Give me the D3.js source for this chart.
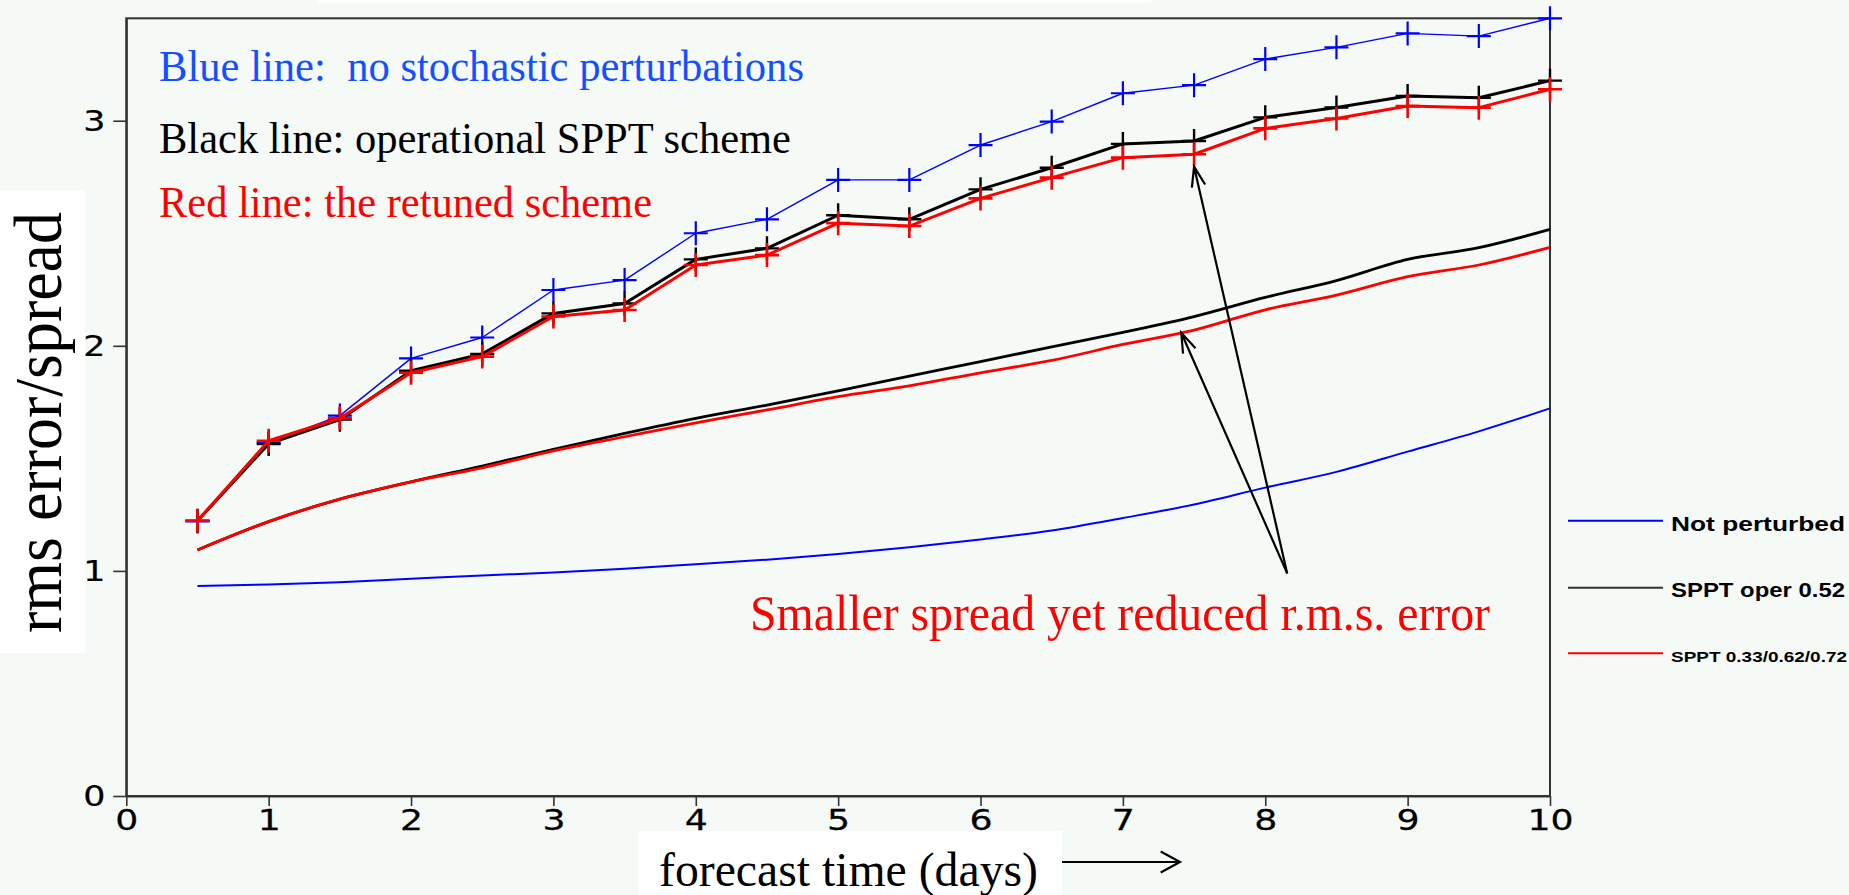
<!DOCTYPE html>
<html><head><meta charset="utf-8">
<script src="https://cdn.jsdelivr.net/npm/d3@7"></script>
<style>html,body{margin:0;padding:0;background:#f5faf7;} svg{display:block}</style>
</head><body><svg id="c" width="1849" height="895"></svg>
<script>
// ---------- data ----------
const days = [0.5,1,1.5,2,2.5,3,3.5,4,4.5,5,5.5,6,6.5,7,7.5,8,8.5,9,9.5,10];
// rms error (lines with + markers)
const rmsNotPerturbed = [1.22,1.57,1.69,1.944,2.037,2.248,2.292,2.50,2.562,2.737,2.737,2.892,2.996,3.122,3.158,3.274,3.326,3.388,3.376,3.455];
const rmsOper        = [1.223,1.564,1.672,1.889,1.964,2.144,2.188,2.384,2.433,2.58,2.562,2.695,2.791,2.897,2.910,3.015,3.059,3.11,3.102,3.178];
const rmsRetuned     = [1.223,1.578,1.678,1.880,1.952,2.13,2.159,2.359,2.403,2.545,2.532,2.655,2.747,2.836,2.851,2.966,3.010,3.065,3.058,3.140];
// ensemble spread (lines without markers)
const spreadNotPerturbed = [0.933,0.940,0.950,0.965,0.98,0.993,1.01,1.03,1.05,1.075,1.105,1.14,1.18,1.235,1.295,1.37,1.44,1.53,1.62,1.722];
const spreadOper         = [1.093,1.219,1.319,1.396,1.466,1.540,1.611,1.678,1.737,1.800,1.865,1.93,1.995,2.06,2.13,2.215,2.29,2.384,2.436,2.517];
const spreadRetuned      = [1.093,1.219,1.319,1.396,1.458,1.533,1.596,1.658,1.715,1.774,1.822,1.88,1.935,2.006,2.07,2.16,2.225,2.307,2.359,2.437];
const xTicks = [0,1,2,3,4,5,6,7,8,9,10];
const yTicks = [0,1,2,3];
const legendLabels = ["Not perturbed","SPPT oper 0.52","SPPT 0.33/0.62/0.72"];
const seriesColors = ["#0000ff","#000000","#ff0000"];
// annotation arrows in data units: [fromDay, fromVal, toDay, toVal]
const arrowFrom = [8.154, 0.989];
const arrowTips = [[7.5, 2.796],[7.41, 2.058]];

// ---------- layout ----------
const svg = d3.select("#c");
const W = 1849, H = 895;
const x = d3.scaleLinear().domain([0,10]).range([126.3,1550]);
const y = d3.scaleLinear().domain([0,3.455]).range([796,18.3]);

svg.append("rect").attr("width",W).attr("height",H).attr("fill","#f5faf7");
// white patches
svg.append("rect").attr("x",318).attr("y",0).attr("width",833).attr("height",2.5).attr("fill","#ffffff");
svg.append("rect").attr("x",0).attr("y",190).attr("width",85).attr("height",463).attr("fill","#ffffff");
svg.append("rect").attr("x",638).attr("y",831).attr("width",424).attr("height",64).attr("fill","#ffffff");

// frame
svg.append("rect").attr("x",x(0)).attr("y",y(3.455)).attr("width",x(10)-x(0)).attr("height",y(0)-y(3.455))
  .attr("fill","none").attr("stroke","#333").attr("stroke-width",2);

// axes
const xAxis = d3.axisBottom(x).tickValues(xTicks).tickSize(10).tickSizeOuter(0).tickPadding(3).tickFormat(d3.format("d"));
const gx = svg.append("g").attr("transform",`translate(0,${y(0)})`).call(xAxis);
const yAxis = d3.axisLeft(y).tickValues(yTicks).tickSize(13).tickSizeOuter(0).tickPadding(8).tickFormat(d3.format("d"));
const gy = svg.append("g").attr("transform",`translate(${x(0)},0)`).call(yAxis);
[gx,gy].forEach(g=>{
  g.selectAll("path").attr("stroke","#333").attr("stroke-width",2);
  g.selectAll("line").attr("stroke","#333").attr("stroke-width",1.6);
  g.selectAll("text").attr("fill","#000").style("font-family","'DejaVu Sans'").style("font-size","29px")
    .style("stroke","#000").style("stroke-width","0.25px");
});
// widen tick glyphs horizontally around their anchor
gx.selectAll("text").attr("transform","scale(1.25,1)");
gy.selectAll("text").each(function(){
  const t = d3.select(this); const tx = +t.attr("x");
  t.attr("transform",`translate(${tx},0) scale(1.2,1) translate(${-tx},0)`);
});

// lines
const line = d3.line().x((d,i)=>x(days[i])).y(d=>y(d));
const smooth = d3.line().x((d,i)=>x(days[i])).y(d=>y(d)).curve(d3.curveMonotoneX);

const spreads = [spreadNotPerturbed, spreadOper, spreadRetuned];
const spreadW = [2, 2.8, 2.8];
spreads.forEach((s,k)=>{
  svg.append("path").attr("d",smooth(s)).attr("fill","none").attr("stroke",seriesColors[k]).attr("stroke-width",spreadW[k]);
});

const rms = [rmsNotPerturbed, rmsOper, rmsRetuned];
const rmsW = [1.4, 3, 3];
const crossW = [2.2, 2.4, 2.6];
rms.forEach((s,k)=>{
  svg.append("path").attr("d",line(s)).attr("fill","none").attr("stroke",seriesColors[k]).attr("stroke-width",rmsW[k]).attr("stroke-linejoin","round");
  const h = 12;
  svg.append("g").selectAll("path").data(s).join("path")
    .attr("d",(d,i)=>{const cx=x(days[i]), cy=y(d); return `M${cx-h},${cy}H${cx+h}M${cx},${cy-h}V${cy+h}`;})
    .attr("stroke",seriesColors[k]).attr("stroke-width",crossW[k]).attr("fill","none");
});

// annotation texts
function txt(t, px, py, size, color, len, family, weight){
  return svg.append("text").attr("x",px).attr("y",py).text(t)
    .attr("fill",color).style("font-family",family||"'Liberation Serif'").style("font-size",size+"px")
    .style("font-weight",weight||"normal")
    .attr("textLength",len).attr("lengthAdjust","spacingAndGlyphs").style("white-space","pre");
}
txt("Blue line:  no stochastic perturbations",159,80.5,44,"#1450ff",645);
txt("Black line: operational SPPT scheme",159,153,44,"#000000",632);
txt("Red line: the retuned scheme",159,216.5,44,"#ff0000",493);
txt("Smaller spread yet reduced r.m.s. error",750,630,51,"#ff0000",740);
txt("forecast time (days)",659,886,48,"#000000",379);

// y label
svg.append("text").attr("transform","translate(61,633) rotate(-90)").text("rms error/spread")
  .attr("fill","#000").style("font-family","'Liberation Serif'").style("font-size","68px")
  .attr("textLength",421).attr("lengthAdjust","spacingAndGlyphs");

// arrows
function arrow(fx,fy,tx,ty,L,a){
  const ang = Math.atan2(ty-fy, tx-fx);
  const p1=[tx-L*Math.cos(ang-a), ty-L*Math.sin(ang-a)];
  const p2=[tx-L*Math.cos(ang+a), ty-L*Math.sin(ang+a)];
  svg.append("path").attr("d",`M${fx},${fy}L${tx},${ty}M${p1[0]},${p1[1]}L${tx},${ty}L${p2[0]},${p2[1]}`)
    .attr("fill","none").attr("stroke","#000").attr("stroke-width",2.2);
}
arrowTips.forEach(t=>arrow(x(arrowFrom[0]),y(arrowFrom[1]),x(t[0]),y(t[1]),21,0.33));
arrow(1062,862,1180,862,22,0.5);

// legend
const legY = [520.7, 587.7, 653.3];
const legSize = [21, 21, 15.5];
const legBase = [530.5, 596.5, 661.5];
const legLen = [174, 174, 176];
legendLabels.forEach((l,k)=>{
  svg.append("line").attr("x1",1568).attr("x2",1663).attr("y1",legY[k]).attr("y2",legY[k])
    .attr("stroke",seriesColors[k]==="#000000"?"#333":seriesColors[k]).attr("stroke-width",2);
  txt(l,1671,legBase[k],legSize[k],"#000",legLen[k],"'Liberation Sans'","bold");
});
</script></body></html>
